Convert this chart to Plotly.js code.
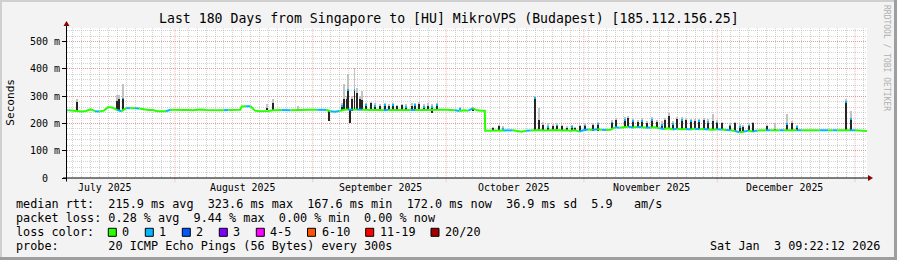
<!DOCTYPE html>
<html><head><meta charset="utf-8">
<script src="https://cdn.plot.ly/plotly-3.0.1.min.js"></script>
<style>html,body{margin:0;padding:0;background:#f3f3f3;} #chart{width:897px;height:260px;}</style>
</head><body><div id="chart"></div>
<script>
// ---------------- DATA ----------------
const xStart = '2025-07-07 16:48';
const xEnd = '2026-01-03 16:48';

const medianDates = [
'2025-07-07 18:00','2025-07-08','2025-07-09','2025-07-10','2025-07-11','2025-07-12','2025-07-13','2025-07-14','2025-07-15','2025-07-16',
'2025-07-17','2025-07-18','2025-07-19','2025-07-20','2025-07-21','2025-07-22','2025-07-23','2025-07-24','2025-07-25','2025-07-26',
'2025-07-27','2025-07-28','2025-07-29','2025-07-30','2025-07-31','2025-08-01','2025-08-02','2025-08-03','2025-08-04','2025-08-05',
'2025-08-06','2025-08-07','2025-08-08','2025-08-09','2025-08-10','2025-08-11','2025-08-12','2025-08-13','2025-08-14','2025-08-15',
'2025-08-15 16:00','2025-08-16','2025-08-17','2025-08-18','2025-08-19','2025-08-20','2025-08-21','2025-08-22','2025-08-23','2025-08-24',
'2025-08-25','2025-08-26','2025-08-27','2025-08-28','2025-08-29','2025-08-30','2025-08-31','2025-09-01','2025-09-02','2025-09-03',
'2025-09-04','2025-09-05','2025-09-06','2025-09-07','2025-09-08','2025-09-09','2025-09-10','2025-09-11','2025-09-12','2025-09-13',
'2025-09-14','2025-09-15','2025-09-16','2025-09-17','2025-09-18','2025-09-19','2025-09-20','2025-09-21','2025-09-22','2025-09-23',
'2025-09-24','2025-09-25','2025-09-26','2025-09-27','2025-09-28','2025-09-29','2025-09-30','2025-10-01','2025-10-02','2025-10-03',
'2025-10-04','2025-10-05','2025-10-06','2025-10-07','2025-10-08','2025-10-09','2025-10-09 17:00','2025-10-09 19:00','2025-10-10','2025-10-11',
'2025-10-12','2025-10-13','2025-10-14','2025-10-15','2025-10-16','2025-10-17','2025-10-18','2025-10-19','2025-10-20','2025-10-21',
'2025-10-22','2025-10-23','2025-10-24','2025-10-25','2025-10-26','2025-10-27','2025-10-28','2025-10-29','2025-10-30','2025-10-31',
'2025-11-01','2025-11-02','2025-11-03','2025-11-04','2025-11-05','2025-11-06','2025-11-07','2025-11-08','2025-11-09','2025-11-10',
'2025-11-11','2025-11-12','2025-11-13','2025-11-14','2025-11-15','2025-11-16','2025-11-17','2025-11-18','2025-11-19','2025-11-20',
'2025-11-21','2025-11-22','2025-11-23','2025-11-24','2025-11-25','2025-11-26','2025-11-27','2025-11-28','2025-11-29','2025-11-30',
'2025-12-01','2025-12-02','2025-12-03','2025-12-04','2025-12-05','2025-12-06','2025-12-07','2025-12-08','2025-12-09','2025-12-10',
'2025-12-11','2025-12-12','2025-12-13','2025-12-14','2025-12-15','2025-12-16','2025-12-17','2025-12-18','2025-12-19','2025-12-20',
'2025-12-21','2025-12-22','2025-12-23','2025-12-24','2025-12-25','2025-12-26','2025-12-27','2025-12-28','2025-12-29','2025-12-30',
'2025-12-31','2026-01-01','2026-01-02','2026-01-03','2026-01-03 16:00'];

const medianValues = [
248,248,247,246,244,246,252,245,244,247,
260,258,249,245,256,256,256,255,252,249,
249,245,245,245,250,249,250,249,249,248,
250,251,249,249,250,249,248,249,250,249,
250,262,263,263,247,245,245,246,248,248,
249,249,248,249,249,249,250,250,250,251,
250,245,243,246,250,251,250,251,250,249,
248,249,249,248,249,249,249,248,249,249,
249,248,249,249,250,250,250,250,250,248,
246,248,247,255,248,247,247,173,173,174,
174,175,174,174,175,172,170,173,174,175,
176,174,175,174,176,174,175,173,175,170,
176,178,176,179,177,176,177,186,184,186,
188,185,187,186,184,185,186,182,180,182,
178,181,179,180,178,181,179,180,178,177,
179,178,176,175,172,168,170,174,170,174,
175,175,175,175,175,175,175,175,175,175,
175,175,174,175,175,175,175,175,175,174,
175,175,174,173,172];

// loss class per median point (0 = 0 lost, 1 = 1 lost of 20)
const medianLoss = [
0,1,0,0,0,0,0,0,1,0,
0,0,0,1,0,1,0,1,0,0,
0,0,0,0,1,0,0,0,0,0,
0,0,0,0,0,0,0,1,0,0,
0,0,0,1,0,0,0,0,0,0,
0,1,1,0,0,0,0,0,0,1,
1,0,1,1,0,0,1,0,1,0,
0,0,0,0,1,0,0,0,0,0,
1,0,0,0,0,0,0,0,0,0,
1,0,0,1,0,0,0,0,0,0,
0,0,0,1,1,0,0,0,1,0,
0,0,0,0,0,0,0,0,0,0,
1,1,0,1,0,1,0,0,1,0,
0,1,0,1,0,1,0,0,1,0,
0,1,0,0,1,0,1,0,1,0,
0,1,0,1,0,1,0,1,0,1,
0,0,1,0,0,1,0,0,0,1,
0,0,0,0,1,1,0,1,0,0,
0,1,0,0,0];

// spikes: dense smoke (dark) from spikeLow to spikeHigh, light smoke up to smokeHigh
const spikeDates = [
'2025-07-09 21:00','2025-07-18 21:00','2025-07-19 11:00','2025-07-20 05:30',
'2025-08-21 15:00','2025-08-23 03:00','2025-08-28 16:00',
'2025-09-04 17:00','2025-09-07 15:00','2025-09-08 00:45','2025-09-08 15:00','2025-09-09 00:00','2025-09-09 09:00',
'2025-09-09 21:30','2025-09-10 09:30','2025-09-10 21:00','2025-09-11 15:00','2025-09-12 00:00','2025-09-12 23:30',
'2025-09-14 00:45','2025-09-15 00:00','2025-09-16 03:00','2025-09-17 06:00','2025-09-18 05:15','2025-09-19 03:00',
'2025-09-20 00:30','2025-09-21 00:15','2025-09-21 23:30','2025-09-23 06:15','2025-09-24 00:00','2025-09-24 23:15',
'2025-09-26 00:45','2025-09-27 00:00','2025-09-27 18:15','2025-09-28 21:00',
'2025-10-04 02:30','2025-10-07 01:00',
'2025-10-11 15:00','2025-10-12 23:15','2025-10-13 21:00','2025-10-21 01:45','2025-10-21 23:15','2025-10-22 21:00',
'2025-10-24 00:00','2025-10-25 03:00','2025-10-26 00:30','2025-10-27 00:00','2025-10-28 03:00','2025-10-29 06:15',
'2025-10-30 00:00','2025-10-31 03:00','2025-11-01 06:00','2025-11-03 01:15','2025-11-04 04:15',
'2025-11-07 06:15','2025-11-08 05:30','2025-11-10 06:00','2025-11-11 00:00','2025-11-12 03:00','2025-11-13 06:00',
'2025-11-14 00:00','2025-11-15 03:00','2025-11-16 06:15','2025-11-17 09:15','2025-11-18 12:00','2025-11-19 06:00',
'2025-11-20 05:15','2025-11-21 03:00','2025-11-21 21:15','2025-11-23 00:30','2025-11-23 23:30','2025-11-25 01:00',
'2025-11-26 00:00','2025-11-26 23:15','2025-11-28 00:45','2025-11-29 00:00','2025-11-30 03:00','2025-12-01 00:30',
'2025-12-02 00:00','2025-12-03 21:00','2025-12-05 00:00','2025-12-06 03:00','2025-12-06 19:15','2025-12-08 03:30',
'2025-12-09 01:15','2025-12-12 04:45','2025-12-14 00:00','2025-12-16 17:00','2025-12-17 20:00','2025-12-18 22:45',
'2025-12-29 21:30','2025-12-31 02:30'];
const spikeLow = [
241,251,251,244,
248,246,250,
208,244,251,251,251,202,
244,251,251,251,251,249,
249,249,249,249,249,249,
249,249,249,249,249,249,
249,249,240,249,
248,245,
174,174,174,174,174,174,
174,174,174,174,174,174,
174,172,172,174,174,
180,182,186,186,185,186,
186,184,185,184,182,180,
180,178,180,179,180,178,
181,179,180,178,177,179,
178,175,172,170,170,172,
170,174,174,174,174,174,
174,174];
const spikeHigh = [
278,282,288,295,
255,276,253,
251,269,288,288,325,251,
288,327,310,288,286,270,
276,269,263,270,263,270,
263,266,263,263,270,270,
263,263,263,270,
257,255,
184,192,184,296,214,196,
190,192,196,190,184,190,
184,190,196,196,200,
207,214,217,221,212,207,
214,202,217,207,199,214,
227,202,217,217,214,212,
210,212,212,210,210,207,
200,196,201,192,188,196,
201,190,180,202,202,190,
282,221];
const smokeHigh = [
288,306,306,343,
270,290,263,
251,275,343,300,380,251,
300,404,330,300,318,276,
280,276,272,276,270,276,
268,272,270,276,276,280,
270,276,270,276,
262,260,
188,196,190,300,255,205,
200,198,200,196,190,195,
188,194,200,200,205,
212,220,222,228,218,214,
220,210,222,214,208,220,
240,210,222,224,220,218,
216,218,220,216,233,214,
206,202,206,198,194,202,
206,194,200,233,208,196,
288,245];
const spikeLoss = [
0,0,0,1,
0,0,0,
0,1,0,0,1,0,
0,1,0,0,0,1,
0,1,0,1,0,1,
0,0,1,0,1,0,
1,0,1,1,
1,0,
0,0,1,1,0,0,
1,0,1,0,0,1,
0,0,1,0,1,
1,0,1,0,1,0,
1,0,1,0,1,0,
0,1,0,1,0,1,
0,1,0,1,0,1,
0,1,0,1,0,1,
0,0,0,1,0,1,
1,1];

const monthStarts = ['2025-08-01','2025-09-01','2025-10-01','2025-11-01','2025-12-01','2026-01-01'];
const monthLabelDates = ['2025-07-16 04:00','2025-08-16 04:00','2025-09-16 04:00','2025-10-16 04:00','2025-11-16 04:00','2025-12-16 04:00'];
const monthLabels = ['July 2025','August 2025','September 2025','October 2025','November 2025','December 2025'];

const yTickVals = [0,100,200,300,400,500];
const yTickText = ['0\u00a0\u00a0','100 m','200 m','300 m','400 m','500 m'];

const lossLabels = ['0','1','2','3','4-5','6-10','11-19','20/20'];
const lossColors = ['#26ff00','#00b8ff','#0059ff','#7e00ff','#ff00ff','#ff5500','#ff0000','#a10000'];

const titleText = 'Last 180 Days from Singapore to [HU] MikroVPS (Budapest) [185.112.156.25]';
const legendLines = [
 'median rtt:  215.9 ms avg  323.6 ms max  167.6 ms min  172.0 ms now  36.9 ms sd  5.9   am/s',
 'packet loss: 0.28 % avg  9.44 % max  0.00 % min  0.00 % now',
 'loss color:',
 'probe:       20 ICMP Echo Pings (56 Bytes) every 300s'];
const stampText = 'Sat Jan  3 09:22:12 2026';
const watermark = 'RRDTOOL / TOBI OETIKER';
const yTitle = 'Seconds';

// ---------------- LAYOUT HELPERS ----------------
const PL = 67, PR = 867, PT = 28, PB = 178;
const W = PR - PL, H = PB - PT;
const px = x => (x - PL) / W;
const py = y => (PB - y) / H;
const nb = s => s.replace(/ /g, '\u00a0');
const MONO = 'DejaVu Sans Mono';

// ---------------- TRACES ----------------
const traces = [];
const BW = 36e6;
// light smoke
traces.push({type:'bar', x:spikeDates, base:spikeHigh, y:spikeHigh.map((h,i)=>smokeHigh[i]-h),
  width:BW, marker:{color:'#c2c2c2', line:{width:0}}, hoverinfo:'skip'});
// dense smoke
traces.push({type:'bar', x:spikeDates, base:spikeLow, y:spikeLow.map((l,i)=>spikeHigh[i]-l),
  width:BW, marker:{color:'#262626', line:{width:0}}, hoverinfo:'skip'});
// median line coloured by loss
let runs = [], cur = null;
for (let i = 0; i < medianDates.length - 1; i++) {
  const c = medianLoss[i+1];
  if (!cur || cur.c !== c) { cur = {c, x:[medianDates[i]], y:[medianValues[i]]}; runs.push(cur); }
  cur.x.push(medianDates[i+1]); cur.y.push(medianValues[i+1]);
}
runs.forEach(r => traces.push({type:'scatter', mode:'lines', x:r.x, y:r.y,
  line:{color:lossColors[r.c], width:2}, hoverinfo:'skip'}));
// loss caps on spikes
const capIdx = spikeLoss.map((l,i)=>l?i:-1).filter(i=>i>=0);
traces.push({type:'bar', x:capIdx.map(i=>spikeDates[i]), base:capIdx.map(i=>spikeHigh[i]-7),
  y:capIdx.map(()=>7), width:BW, marker:{color:lossColors[1], line:{width:0}}, hoverinfo:'skip'});

// ---------------- SHAPES ----------------
const shapes = [];
const GRIDRED = 'rgba(235,120,120,0.6)';
const GRIDGREY = 'rgba(150,150,150,0.42)';
monthStarts.forEach(d => shapes.push({type:'line', xref:'x', yref:'paper', x0:d, x1:d, y0:-0.025, y1:1,
  line:{color:GRIDRED, width:1, dash:'1px,1px'}, layer:'below'}));
// axes
shapes.push({type:'line', xref:'paper', yref:'paper', x0:px(63), x1:px(869), y0:0, y1:0, line:{color:'#000', width:1}});
shapes.push({type:'path', xref:'paper', yref:'paper',
  path:`M ${px(868)} ${py(175)} L ${px(873)} ${py(178)} L ${px(868)} ${py(181)} Z`, fillcolor:'#8b0000', line:{width:0}});
shapes.push({type:'line', xref:'paper', yref:'paper', x0:px(66.5), x1:px(66.5), y0:py(181.5), y1:py(25), line:{color:'#000', width:1}});
shapes.push({type:'path', xref:'paper', yref:'paper',
  path:`M ${px(63.5)} ${py(26)} L ${px(66.5)} ${py(21)} L ${px(69.5)} ${py(26)} Z`, fillcolor:'#8b0000', line:{width:0}});
// frame
shapes.push({type:'rect', xref:'paper', yref:'paper', x0:px(0), x1:px(897), y0:py(0), y1:py(2), fillcolor:'#cfcfcf', line:{width:0}});
shapes.push({type:'rect', xref:'paper', yref:'paper', x0:px(0), x1:px(2), y0:py(0), y1:py(260), fillcolor:'#cfcfcf', line:{width:0}});
shapes.push({type:'rect', xref:'paper', yref:'paper', x0:px(0), x1:px(897), y0:py(257), y1:py(260), fillcolor:'#9e9e9e', line:{width:0}});
shapes.push({type:'rect', xref:'paper', yref:'paper', x0:px(894), x1:px(897), y0:py(0), y1:py(260), fillcolor:'#9e9e9e', line:{width:0}});
// loss colour boxes
const boxX = [108.3, 145.3, 182.3, 219.3, 256.3, 307.5, 365.7, 431];
lossColors.forEach((c,i) => shapes.push({type:'rect', xref:'paper', yref:'paper',
  x0:px(boxX[i]), x1:px(boxX[i]+8), y0:py(236.3), y1:py(228.3), fillcolor:c, line:{color:'#000', width:1}}));

// ---------------- ANNOTATIONS ----------------
const ann = [];
const A = (o) => Object.assign({showarrow:false, borderpad:0, borderwidth:0}, o);
ann.push(A({xref:'paper', yref:'paper', x:px(448.5), y:py(19), xanchor:'center', yanchor:'middle',
  text:titleText, font:{family:MONO, size:13.2, color:'#000'}}));
ann.push(A({xref:'paper', yref:'paper', x:px(11), y:py(101.7), xanchor:'center', yanchor:'middle', textangle:-90,
  text:yTitle, font:{family:MONO, size:11.1, color:'#000'}}));
ann.push(A({xref:'paper', yref:'paper', x:px(886), y:py(58), xanchor:'center', yanchor:'middle', textangle:90,
  text:nb(watermark), font:{family:MONO, size:8, color:'#b0b0b0'}}));
monthLabels.forEach((t,i) => ann.push(A({xref:'x', yref:'paper', x:monthLabelDates[i], y:py(187.3),
  xanchor:'center', yanchor:'middle', text:nb(t), font:{family:MONO, size:9.9, color:'#000'}})));
const lineY = [204.3, 218.3, 232.3, 246.3];
legendLines.forEach((t,i) => ann.push(A({xref:'paper', yref:'paper', x:px(16), y:py(lineY[i]),
  xanchor:'left', yanchor:'middle', text:nb(t), font:{family:MONO, size:11.8, color:'#000'}})));
lossLabels.forEach((t,i) => ann.push(A({xref:'paper', yref:'paper', x:px(boxX[i]+14), y:py(232.3),
  xanchor:'left', yanchor:'middle', text:nb(t), font:{family:MONO, size:11.8, color:'#000'}})));
ann.push(A({xref:'paper', yref:'paper', x:px(880), y:py(246.3), xanchor:'right', yanchor:'middle',
  text:nb(stampText), font:{family:MONO, size:11.8, color:'#000'}}));

const layout = {
  width:897, height:260,
  margin:{l:PL, r:897-PR, t:PT, b:260-PB, pad:0},
  paper_bgcolor:'#f3f3f3', plot_bgcolor:'#ffffff',
  showlegend:false, barmode:'overlay', bargap:0,
  font:{family:MONO, size:10, color:'#000'},
  xaxis:{type:'date', range:[xStart, xEnd], showgrid:false, showticklabels:false, ticks:'', zeroline:false, showline:false,
    minor:{tickmode:'linear', tick0:'2025-07-09', dtick:172800000, showgrid:true, gridcolor:GRIDGREY, griddash:'1px,1px', gridwidth:1}},
  yaxis:{range:[0,550], tickmode:'array', tickvals:yTickVals, ticktext:yTickText, showgrid:true,
    gridcolor:GRIDRED, griddash:'1px,1px', gridwidth:1, ticks:'outside', ticklen:4, tickcolor:'#000',
    zeroline:false, showline:false, tickfont:{family:MONO, size:10, color:'#000'},
    minor:{tickmode:'linear', tick0:0, dtick:20, showgrid:true, gridcolor:GRIDGREY, griddash:'1px,1px', gridwidth:1}},
  shapes, annotations:ann
};
Plotly.newPlot('chart', traces, layout, {staticPlot:true, displayModeBar:false});
</script></body></html>
